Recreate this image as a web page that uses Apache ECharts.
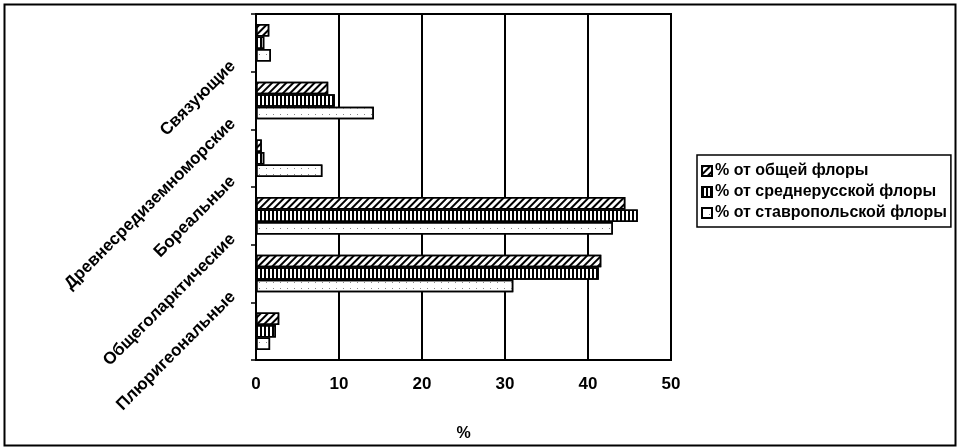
<!DOCTYPE html>
<html>
<head>
<meta charset="utf-8">
<script src="https://cdn.jsdelivr.net/npm/echarts@6/dist/echarts.min.js"></script>
<style>
html,body{margin:0;padding:0;background:#fff;}
#chart{width:957px;height:447px;}
</style>
</head>
<body>
<div id="chart"></div>
<script>
// Categories listed top to bottom (the top group carries no label in the source)
const categories = ['', 'Связующие', 'Древнесредиземноморские', 'Бореальные', 'Общеголарктические', 'Плюригеональные'];
const seriesNames = ['% от общей флоры', '% от среднерусской флоры', '% от ставропольской флоры'];
const totalFlora = [1.6, 8.7, 0.7, 44.5, 41.6, 2.8];
const middleRussianFlora = [1.0, 9.5, 1.0, 46.0, 41.3, 2.4];
const stavropolFlora = [1.8, 14.2, 8.0, 43.0, 31.0, 1.7];
const xTicks = [0, 10, 20, 30, 40, 50];

const FONT = "'Liberation Sans', Arial, sans-serif";
const chart = echarts.init(document.getElementById('chart'), null, {renderer: 'canvas'});

const decals = [
  {symbol: 'rect', symbolSize: 1, color: '#000', dashArrayX: [1, 0], dashArrayY: [1.5, 2.5], rotation: -Math.PI / 4},
  {symbol: 'rect', symbolSize: 1, color: '#000', dashArrayX: [2, 1.5], dashArrayY: [1, 0]},
  {symbol: 'rect', symbolSize: 1, color: '#888', dashArrayX: [1, 6], dashArrayY: [1, 5]}
];
const datasets = [totalFlora, middleRussianFlora, stavropolFlora];

const option = {
  animation: false,
  backgroundColor: '#fff',
  textStyle: {fontFamily: FONT},
  graphic: [{
    type: 'rect', left: 2, top: 2,
    shape: {width: 951, height: 441},
    style: {fill: 'none', stroke: '#000', lineWidth: 2},
    silent: true
  }],
  grid: {left: 256, right: 286, top: 14, bottom: 87, show: true, borderColor: '#000', borderWidth: 2, backgroundColor: 'transparent'},
  legend: {
    orient: 'vertical',
    left: 697, top: 155,
    itemWidth: 10, itemHeight: 10, itemGap: 5,
    borderColor: '#000', borderWidth: 1.5, borderRadius: 0,
    padding: [8, 4, 6, 4],
    icon: 'rect',
    textStyle: {fontFamily: FONT, fontWeight: 'bold', fontSize: 16, color: '#000', padding: [0, 0, 0, -2]},
    data: seriesNames
  },
  xAxis: {
    type: 'value', min: xTicks[0], max: xTicks[xTicks.length - 1], interval: 10,
    name: '%', nameLocation: 'middle', nameGap: 66,
    nameTextStyle: {fontFamily: FONT, fontWeight: 'bold', fontSize: 16, color: '#000'},
    axisLine: {show: true, lineStyle: {color: '#000', width: 2}},
    axisTick: {show: true, length: 5, lineStyle: {color: '#000', width: 1.5}},
    axisLabel: {fontFamily: FONT, fontWeight: 'bold', fontSize: 17, color: '#000', margin: 16},
    splitLine: {show: true, lineStyle: {color: '#000', width: 2}}
  },
  yAxis: [{
    type: 'category', inverse: true, data: categories,
    axisLine: {show: true, lineStyle: {color: '#000', width: 2}},
    axisTick: {show: false},
    axisLabel: {show: false},
    splitLine: {show: false}
  }, {
    type: 'value', inverse: true, min: 0, max: categories.length, interval: 1,
    position: 'left',
    axisLine: {show: false},
    axisTick: {show: true, length: 5, lineStyle: {color: '#000', width: 1.5}},
    splitLine: {show: false},
    axisLabel: {
      rotate: 45, margin: 15, verticalAlign: 'bottom', lineHeight: 23,
      fontFamily: FONT, fontWeight: 'bold', fontSize: 17, color: '#000',
      formatter: function (v) { return categories[v] || ''; }
    }
  }],
  series: datasets.map(function (d, i) {
    return {
      name: seriesNames[i], type: 'bar', yAxisIndex: 0,
      data: d, barWidth: 12.5, barGap: '0%',
      itemStyle: {color: '#fff', borderColor: '#000', borderWidth: 1.5, decal: decals[i]}
    };
  })
};
chart.setOption(option);
</script>
</body>
</html>
